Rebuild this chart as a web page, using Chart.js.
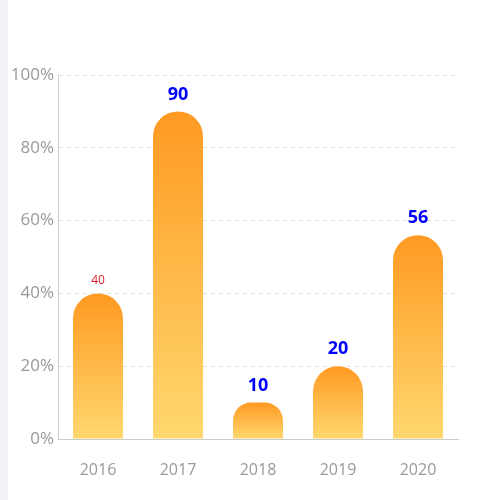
<!DOCTYPE html>
<html>
<head>
<meta charset="utf-8">
<script src="https://cdn.jsdelivr.net/npm/chart.js@4/dist/chart.umd.min.js"></script>
<style>
  body { margin: 0; background: #fff; }
  #wrap { position: relative; width: 500px; height: 500px; }
  #strip { position: absolute; left: 0; top: 0; width: 8px; height: 500px; background: #f2f2f8; }
</style>
</head>
<body>
<div id="wrap">
  <canvas id="c" width="500" height="500"></canvas>
  <div id="strip"></div>
</div>
<script>
const years = ['2016', '2017', '2018', '2019', '2020'];
const values = [40, 90, 10, 20, 56];
const yTicks = [0, 20, 40, 60, 80, 100];

// value labels above each bar; the first one is small and red
const labelPlugin = {
  id: 'labels',
  afterDatasetsDraw(chart) {
    const ctx = chart.ctx;
    const meta = chart.getDatasetMeta(0);
    ctx.save();
    ctx.textAlign = 'center';
    ctx.textBaseline = 'middle';
    meta.data.forEach((bar, i) => {
      if (i === 0) {
        ctx.fillStyle = '#e0202a';
        ctx.font = '12px "Open Sans", sans-serif';
        ctx.fillText(values[i], bar.x, bar.y - 13);
      } else {
        ctx.fillStyle = '#0000ff';
        ctx.font = 'bold 18px "Open Sans", sans-serif';
        ctx.fillText(values[i], bar.x, bar.y - 17);
      }
    });
    ctx.restore();
  }
};

new Chart(document.getElementById('c'), {
  type: 'bar',
  data: {
    labels: years,
    datasets: [{
      data: values,
      barPercentage: 0.625,
      categoryPercentage: 1,
      borderRadius: { topLeft: 25, topRight: 25 },
      borderSkipped: 'bottom',
      backgroundColor(context) {
        const chart = context.chart;
        if (!chart.chartArea || !chart.scales.y) return '#ffa024';
        const y = chart.scales.y;
        const top = y.getPixelForValue(values[context.dataIndex]);
        const bottom = y.getPixelForValue(0);
        const g = chart.ctx.createLinearGradient(0, top, 0, bottom);
        g.addColorStop(0, '#ff9a22');
        g.addColorStop(1, '#ffd86f');
        return g;
      }
    }]
  },
  options: {
    responsive: false,
    animation: false,
    layout: { padding: { top: 75, right: 42, left: 0, bottom: 0 } },
    plugins: { legend: { display: false }, tooltip: { enabled: false } },
    scales: {
      x: {
        grid: { display: false },
        border: { color: '#cccccc' },
        ticks: { color: '#999', font: { size: 16, family: '"Open Sans", sans-serif' }, padding: 14 },
        afterFit(s) { s.height = 61; }
      },
      y: {
        min: 0, max: 100,
        afterBuildTicks(s) { s.ticks = yTicks.map(v => ({ value: v })); },
        grid: { color: '#e0e0e0', drawTicks: false },
        border: { color: '#cccccc', dash: [4, 4] },
        ticks: {
          color: '#999', padding: 4,
          font: { size: 17, family: '"Open Sans", sans-serif' },
          callback: v => v + '%'
        },
        afterFit(s) { s.width = 58; }
      }
    }
  },
  plugins: [labelPlugin]
});
</script>
</body>
</html>
